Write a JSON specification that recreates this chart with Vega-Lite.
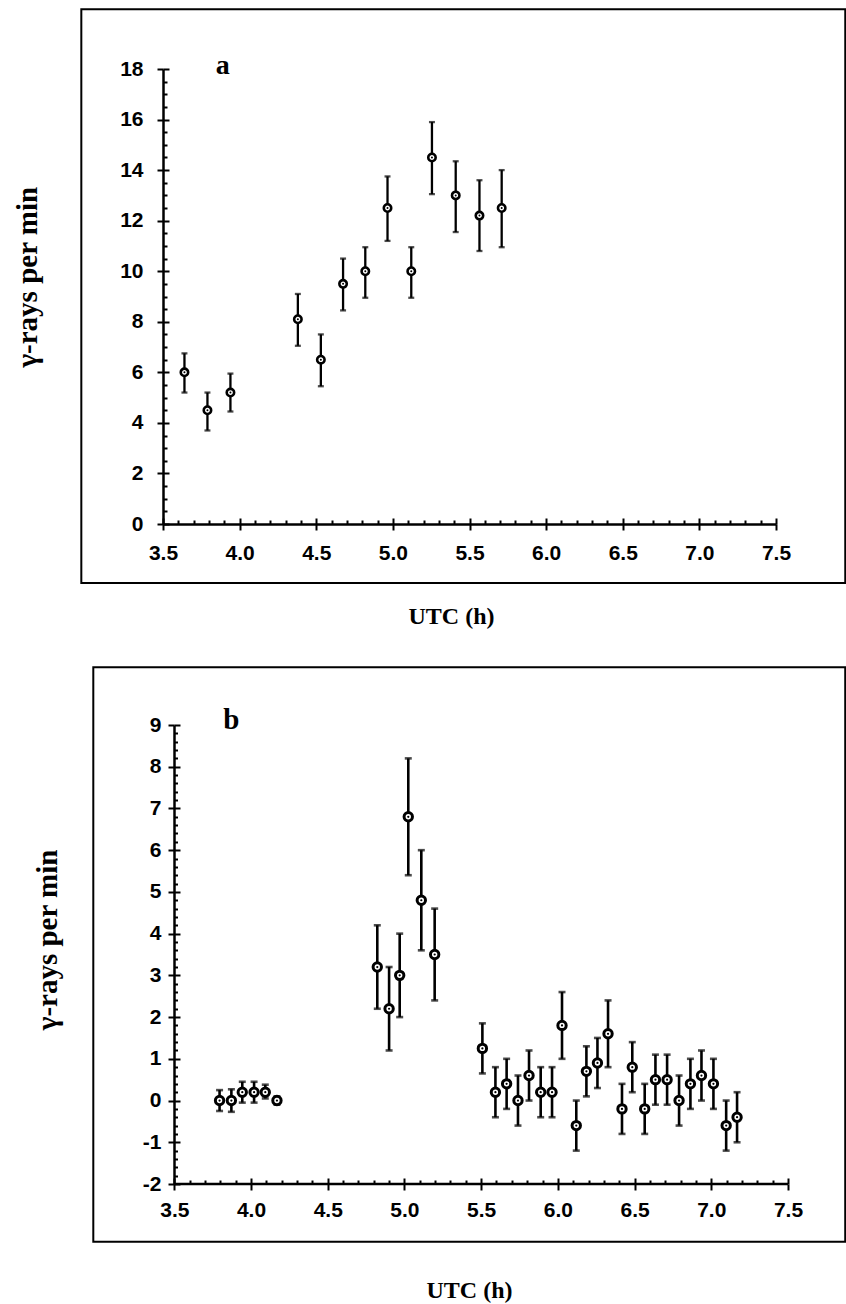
{
  "$schema": "https://vega.github.io/schema/vega-lite/v6.json",
  "background": "white",
  "autosize": {"type": "pad"},
  "padding": {"left": 12, "top": 8, "right": 1, "bottom": 2},
  "spacing": 201,
  "bounds": "flush",
  "config": {
    "view": {"stroke": null},
    "axis": {
      "domainColor": "black", "domainWidth": 2.5,
      "tickColor": "black", "tickWidth": 2,
      "labelFont": "'Liberation Sans', Arial, sans-serif",
      "labelFontWeight": "bold", "labelFontSize": 21, "labelColor": "black",
      "titleFont": "'Liberation Serif', 'Times New Roman', serif",
      "titleFontWeight": "bold", "titleColor": "black",
      "grid": false, "labelFlush": false, "labelOverlap": false
    }
  },
  "vconcat": [
    {
      "width": 613, "height": 455,
      "data": {"values": [
        {"t": 3.64, "v": 6.0, "lo": 5.2, "hi": 6.75},
        {"t": 3.79, "v": 4.5, "lo": 3.7, "hi": 5.2},
        {"t": 3.94, "v": 5.2, "lo": 4.45, "hi": 5.95},
        {"t": 4.38, "v": 8.1, "lo": 7.05, "hi": 9.1},
        {"t": 4.53, "v": 6.5, "lo": 5.45, "hi": 7.5},
        {"t": 4.675, "v": 9.5, "lo": 8.45, "hi": 10.5},
        {"t": 4.82, "v": 10.0, "lo": 8.95, "hi": 10.95},
        {"t": 4.965, "v": 12.5, "lo": 11.2, "hi": 13.75},
        {"t": 5.12, "v": 10.0, "lo": 8.95, "hi": 10.95},
        {"t": 5.255, "v": 14.5, "lo": 13.05, "hi": 15.9},
        {"t": 5.41, "v": 13.0, "lo": 11.55, "hi": 14.35},
        {"t": 5.565, "v": 12.2, "lo": 10.8, "hi": 13.6},
        {"t": 5.71, "v": 12.5, "lo": 10.95, "hi": 14.0}
      ]},
      "layer": [
        {
          "data": {"values": [{}]},
          "mark": {"type": "rect", "fill": "transparent", "stroke": "black", "strokeWidth": 2},
          "encoding": {
            "x": {"datum": 2.967, "type": "quantitative", "scale": {"domain": [3.5, 7.5], "nice": false, "zero": false}, "axis": null},
            "x2": {"datum": 7.952},
            "y": {"datum": 20.36, "type": "quantitative", "scale": {"domain": [0, 18], "nice": false, "zero": false}, "axis": null},
            "y2": {"datum": -2.33}
          }
        },
        {
          "mark": {"type": "errorbar", "color": "black", "thickness": 2.3, "size": 6, "ticks": true},
          "encoding": {
            "x": {"field": "t", "type": "quantitative", "scale": {"domain": [3.5, 7.5], "nice": false, "zero": false}, "axis": null},
            "y": {"field": "lo", "type": "quantitative", "scale": {"domain": [0, 18], "nice": false, "zero": false}, "axis": null},
            "y2": {"field": "hi"}
          }
        },
        {
          "mark": {"type": "point", "shape": "circle", "size": 55, "stroke": "black", "strokeWidth": 2.6, "fill": "white", "fillOpacity": 1, "opacity": 1},
          "encoding": {
            "x": {"field": "t", "type": "quantitative", "scale": {"domain": [3.5, 7.5], "nice": false, "zero": false},
              "axis": {"orient": "bottom", "values": [3.5, 4, 4.5, 5, 5.5, 6, 6.5, 7, 7.5], "format": ".1f", "tickSize": 6, "labelPadding": 12,
                "title": "UTC (h)", "titleX": 288, "titleY": 99, "titleAlign": "center", "titleBaseline": "alphabetic", "titleAngle": 0, "titleFontSize": 24}},
            "y": {"field": "v", "type": "quantitative", "scale": {"domain": [0, 18], "nice": false, "zero": false},
              "axis": {"orient": "left", "values": [0, 2, 4, 6, 8, 10, 12, 14, 16, 18], "format": "d", "tickSize": 6, "labelPadding": 14,
                "title": "γ-rays per min", "titleX": -127, "titleY": 207.7, "titleAngle": 270, "titleAlign": "center", "titleBaseline": "alphabetic", "titleFontSize": 29}}
          }
        },
        {
          "mark": {"type": "circle", "size": 4, "color": "black", "opacity": 1},
          "encoding": {
            "x": {"field": "t", "type": "quantitative", "scale": {"domain": [3.5, 7.5], "nice": false, "zero": false}, "axis": null},
            "y": {"field": "v", "type": "quantitative", "scale": {"domain": [0, 18], "nice": false, "zero": false}, "axis": null}
          }
        },
        {
          "data": {"values": [{}]},
          "mark": {"type": "text", "text": "a", "font": "'Liberation Serif', 'Times New Roman', serif", "fontWeight": "bold", "fontSize": 28, "align": "center", "baseline": "alphabetic", "color": "black"},
          "encoding": {
            "x": {"datum": 3.89, "type": "quantitative", "scale": {"domain": [3.5, 7.5], "nice": false, "zero": false},
              "axis": {"orient": "bottom", "values": [3.5, 3.6, 3.7, 3.8, 3.9, 4, 4.1, 4.2, 4.3, 4.4, 4.5, 4.6, 4.7, 4.8, 4.9, 5, 5.1, 5.2, 5.3, 5.4, 5.5, 5.6, 5.7, 5.8, 5.9, 6, 6.1, 6.2, 6.3, 6.4, 6.5, 6.6, 6.7, 6.8, 6.9, 7, 7.1, 7.2, 7.3, 7.4, 7.5],
                "tickSize": {"condition": {"test": "abs(datum.value*2 - round(datum.value*2)) < 0.001", "value": -6}, "value": -4},
                "labels": false, "domain": false, "title": null}},
            "y": {"datum": 17.81, "type": "quantitative", "scale": {"domain": [0, 18], "nice": false, "zero": false},
              "axis": {"orient": "left", "values": [0, 0.5, 1, 1.5, 2, 2.5, 3, 3.5, 4, 4.5, 5, 5.5, 6, 6.5, 7, 7.5, 8, 8.5, 9, 9.5, 10, 10.5, 11, 11.5, 12, 12.5, 13, 13.5, 14, 14.5, 15, 15.5, 16, 16.5, 17, 17.5, 18],
                "tickSize": {"condition": {"test": "abs(datum.value/2 - round(datum.value/2)) < 0.001", "value": -6}, "value": -4},
                "labels": false, "domain": false, "title": null}}
          }
        }
      ],
      "resolve": {"axis": {"x": "independent", "y": "independent"}}
    },
    {
      "width": 625, "height": 459,
      "data": {"values": [
        {"t": 3.795, "v": 0.0, "lo": -0.25, "hi": 0.25},
        {"t": 3.872, "v": 0.0, "lo": -0.27, "hi": 0.27},
        {"t": 3.943, "v": 0.2, "lo": -0.05, "hi": 0.45},
        {"t": 4.02, "v": 0.2, "lo": -0.05, "hi": 0.45},
        {"t": 4.093, "v": 0.2, "lo": 0.05, "hi": 0.38},
        {"t": 4.169, "v": 0.0, "lo": -0.1, "hi": 0.1},
        {"t": 4.823, "v": 3.2, "lo": 2.2, "hi": 4.2},
        {"t": 4.9, "v": 2.2, "lo": 1.2, "hi": 3.2},
        {"t": 4.969, "v": 3.0, "lo": 2.0, "hi": 4.0},
        {"t": 5.025, "v": 6.8, "lo": 5.4, "hi": 8.2},
        {"t": 5.11, "v": 4.8, "lo": 3.6, "hi": 6.0},
        {"t": 5.197, "v": 3.5, "lo": 2.4, "hi": 4.6},
        {"t": 5.508, "v": 1.25, "lo": 0.65, "hi": 1.85},
        {"t": 5.593, "v": 0.2, "lo": -0.4, "hi": 0.8},
        {"t": 5.666, "v": 0.4, "lo": -0.2, "hi": 1.0},
        {"t": 5.74, "v": 0.0, "lo": -0.6, "hi": 0.6},
        {"t": 5.812, "v": 0.6, "lo": 0.0, "hi": 1.2},
        {"t": 5.888, "v": 0.2, "lo": -0.4, "hi": 0.8},
        {"t": 5.962, "v": 0.2, "lo": -0.4, "hi": 0.8},
        {"t": 6.027, "v": 1.8, "lo": 1.0, "hi": 2.6},
        {"t": 6.12, "v": -0.6, "lo": -1.2, "hi": 0.0},
        {"t": 6.186, "v": 0.7, "lo": 0.1, "hi": 1.3},
        {"t": 6.258, "v": 0.9, "lo": 0.3, "hi": 1.5},
        {"t": 6.327, "v": 1.6, "lo": 0.8, "hi": 2.4},
        {"t": 6.418, "v": -0.2, "lo": -0.8, "hi": 0.4},
        {"t": 6.485, "v": 0.8, "lo": 0.2, "hi": 1.4},
        {"t": 6.566, "v": -0.2, "lo": -0.8, "hi": 0.4},
        {"t": 6.636, "v": 0.5, "lo": -0.1, "hi": 1.1},
        {"t": 6.712, "v": 0.5, "lo": -0.1, "hi": 1.1},
        {"t": 6.79, "v": 0.0, "lo": -0.6, "hi": 0.6},
        {"t": 6.864, "v": 0.4, "lo": -0.2, "hi": 1.0},
        {"t": 6.936, "v": 0.6, "lo": 0.0, "hi": 1.2},
        {"t": 7.014, "v": 0.4, "lo": -0.2, "hi": 1.0},
        {"t": 7.097, "v": -0.6, "lo": -1.2, "hi": 0.0},
        {"t": 7.168, "v": -0.4, "lo": -1.0, "hi": 0.2}
      ]},
      "layer": [
        {
          "data": {"values": [{}]},
          "mark": {"type": "rect", "fill": "transparent", "stroke": "black", "strokeWidth": 2},
          "encoding": {
            "x": {"datum": 2.972, "type": "quantitative", "scale": {"domain": [3.4263, 7.5], "nice": false, "zero": false}, "axis": null},
            "x2": {"datum": 7.873},
            "y": {"datum": 10.381, "type": "quantitative", "scale": {"domain": [-2, 9], "nice": false, "zero": false}, "axis": null},
            "y2": {"datum": -3.384}
          }
        },
        {
          "data": {"values": [{}]},
          "mark": {"type": "rule", "color": "black", "strokeWidth": 2.5},
          "encoding": {
            "x": {"datum": 3.5, "type": "quantitative", "scale": {"domain": [3.4263, 7.5], "nice": false, "zero": false}, "axis": null},
            "x2": {"datum": 7.5},
            "y": {"datum": -2, "type": "quantitative", "scale": {"domain": [-2, 9], "nice": false, "zero": false}, "axis": null}
          }
        },
        {
          "mark": {"type": "errorbar", "color": "black", "thickness": 2.6, "size": 7, "ticks": true},
          "encoding": {
            "x": {"field": "t", "type": "quantitative", "scale": {"domain": [3.4263, 7.5], "nice": false, "zero": false}, "axis": null},
            "y": {"field": "lo", "type": "quantitative", "scale": {"domain": [-2, 9], "nice": false, "zero": false}, "axis": null},
            "y2": {"field": "hi"}
          }
        },
        {
          "mark": {"type": "point", "shape": "circle", "size": 70, "stroke": "black", "strokeWidth": 3, "fill": "white", "fillOpacity": 1, "opacity": 1},
          "encoding": {
            "x": {"field": "t", "type": "quantitative", "scale": {"domain": [3.4263, 7.5], "nice": false, "zero": false},
              "axis": {"orient": "bottom", "values": [3.5, 4, 4.5, 5, 5.5, 6, 6.5, 7, 7.5], "format": ".1f", "tickSize": 6, "labelPadding": 9, "domain": false,
                "title": "UTC (h)", "titleX": 306, "titleY": 113.7, "titleAlign": "center", "titleBaseline": "alphabetic", "titleAngle": 0, "titleFontSize": 24}},
            "y": {"field": "v", "type": "quantitative", "scale": {"domain": [-2, 9], "nice": false, "zero": false},
              "axis": {"orient": "left", "offset": -11, "values": [-2, -1, 0, 1, 2, 3, 4, 5, 6, 7, 8, 9],
                "labelExpr": "datum.value < 0 ? '-' + abs(datum.value) : '' + datum.value",
                "tickSize": 6, "labelPadding": 7,
                "title": "γ-rays per min", "titleX": -117.5, "titleY": 214.4, "titleAngle": 270, "titleAlign": "center", "titleBaseline": "alphabetic", "titleFontSize": 29}}
          }
        },
        {
          "mark": {"type": "circle", "size": 5, "color": "black", "opacity": 1},
          "encoding": {
            "x": {"field": "t", "type": "quantitative", "scale": {"domain": [3.4263, 7.5], "nice": false, "zero": false}, "axis": null},
            "y": {"field": "v", "type": "quantitative", "scale": {"domain": [-2, 9], "nice": false, "zero": false}, "axis": null}
          }
        },
        {
          "data": {"values": [{}]},
          "mark": {"type": "text", "text": "b", "font": "'Liberation Serif', 'Times New Roman', serif", "fontWeight": "bold", "fontSize": 29, "align": "center", "baseline": "alphabetic", "color": "black"},
          "encoding": {
            "x": {"datum": 3.872, "type": "quantitative", "scale": {"domain": [3.4263, 7.5], "nice": false, "zero": false},
              "axis": {"orient": "bottom", "values": [3.5, 3.6, 3.7, 3.8, 3.9, 4, 4.1, 4.2, 4.3, 4.4, 4.5, 4.6, 4.7, 4.8, 4.9, 5, 5.1, 5.2, 5.3, 5.4, 5.5, 5.6, 5.7, 5.8, 5.9, 6, 6.1, 6.2, 6.3, 6.4, 6.5, 6.6, 6.7, 6.8, 6.9, 7, 7.1, 7.2, 7.3, 7.4, 7.5],
                "tickSize": {"condition": {"test": "abs(datum.value*2 - round(datum.value*2)) < 0.001", "value": -6}, "value": -4},
                "labels": false, "domain": false, "title": null}},
            "y": {"datum": 8.895, "type": "quantitative", "scale": {"domain": [-2, 9], "nice": false, "zero": false},
              "axis": {"orient": "left", "offset": -11, "values": [-2, -1.8, -1.6, -1.4, -1.2, -1, -0.8, -0.6, -0.4, -0.2, 0, 0.2, 0.4, 0.6, 0.8, 1, 1.2, 1.4, 1.6, 1.8, 2, 2.2, 2.4, 2.6, 2.8, 3, 3.2, 3.4, 3.6, 3.8, 4, 4.2, 4.4, 4.6, 4.8, 5, 5.2, 5.4, 5.6, 5.8, 6, 6.2, 6.4, 6.6, 6.8, 7, 7.2, 7.4, 7.6, 7.8, 8, 8.2, 8.4, 8.6, 8.8, 9],
                "tickSize": {"condition": {"test": "abs(datum.value - round(datum.value)) < 0.001", "value": -6}, "value": -3.5},
                "labels": false, "domain": false, "title": null}}
          }
        }
      ],
      "resolve": {"axis": {"x": "independent", "y": "independent"}}
    }
  ]
}
